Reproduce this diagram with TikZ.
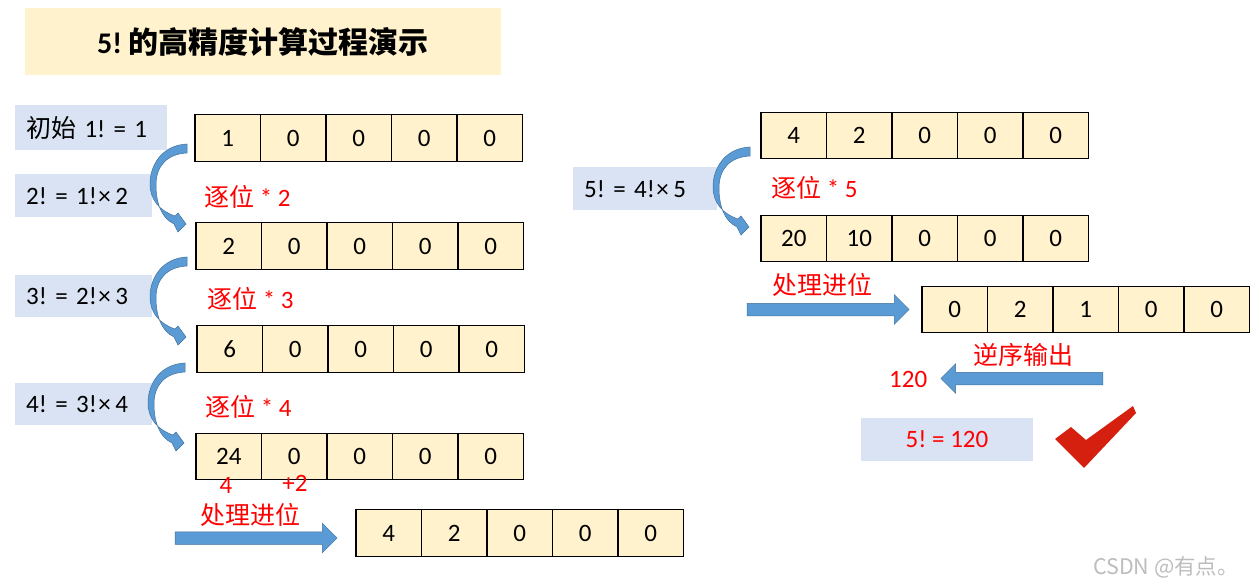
\documentclass[tikz,border=0pt]{standalone}
\usepackage{fontspec}
\setmainfont{Carlito}
\newfontfamily\cjk{Noto Sans CJK SC}
\usetikzlibrary{shapes.arrows}
\definecolor{cellfill}{HTML}{FFF2CC}
\definecolor{lblfill}{HTML}{DAE3F3}
\definecolor{arrfill}{HTML}{5B9BD5}
\definecolor{arrline}{HTML}{41719C}
\definecolor{checkred}{HTML}{D52010}
\definecolor{marktext}{HTML}{BDBDBD}
\frenchspacing
\newcommand{\tms}{\hspace{1.5pt}×\hspace{4.5pt}}

\tikzset{
  cell/.style={draw, line width=1.2pt, fill=cellfill, minimum width=65.5pt,
    minimum height=46.5pt, inner sep=0pt, font=\fontsize{25}{28}\selectfont},
  lbl/.style={fill=lblfill, anchor=north west, inner xsep=11pt, inner ysep=0pt,
    align=left, font=\fontsize{25}{28}\selectfont},
  redlbl/.style={text=red, inner sep=0pt, font=\fontsize{25}{28}\selectfont},
  bendarrow/.style={fill=arrfill, draw=arrline, line width=0.5pt},
  pusharrow/.style={single arrow, fill=arrfill, draw=arrline, line width=0.5pt,
    minimum height=162pt, inner sep=6pt, single arrow head extend=8.5pt}
}

\begin{document}
\begin{tikzpicture}[x=1pt,y=-1pt]
\useasboundingbox (0,0) rectangle (1259,588);

% title
\node[fill=cellfill, minimum width=476pt, minimum height=67pt,
  font=\fontsize{30}{34}\selectfont\bfseries] (title) at (263,41.5) {5! {\cjk 的高精度计算过程演示}};

% steps on the left and right
\node[lbl, minimum height=45pt, text width=130pt] (init) at (15,105) {{\cjk 初始} 1! = 1};
\node[lbl, minimum height=43pt, text width=115pt] (f2) at (15,174) {2! = 1!\tms 2};
\node[lbl, minimum height=42pt, text width=115pt] (f3) at (15,275) {3! = 2!\tms 3};
\node[lbl, minimum height=42pt, text width=115pt] (f4) at (15,383) {4! = 3!\tms 4};
\node[lbl, minimum height=43pt, text width=122pt] (f5) at (573,167) {5! = 4!\tms 5};

% digit arrays
\foreach \row/\x/\y/\vals in {r1/195/138/{1,0,0,0,0}, r2/196/246/{2,0,0,0,0},
    r3/197/349/{6,0,0,0,0}, r4/196/456.5/{24,0,0,0,0}, r5/356/533/{4,2,0,0,0},
    ra/761/135.5/{4,2,0,0,0}, rb/761/238.5/{20,10,0,0,0}, rc/922/309.5/{0,2,1,0,0}}
  \foreach \v [count=\i] in \vals
    \node[cell] (\row c\i) at (\x+65.5*\i-32.75,\y) {\v};

% curved arrows between the arrays
\foreach \tx/\ty in {187/144, 187/257, 185/363, 750/147}
  \filldraw[bendarrow, shift={(\tx,\ty)}] (0,0) .. controls (-24,1) and (-37,20) .. (-37,40)
    .. controls (-37,56) and (-27,67) .. (-12,72) -- (-9,69) -- (-1,80) -- (-9,88) -- (-13,80)
    .. controls (-26,74) and (-31,58) .. (-31,41) .. controls (-31,22) and (-20,10) .. (0,9) -- cycle;

% red notes
\node[redlbl, anchor=west] (m2) at (204,197) {{\cjk 逐位} * 2};
\node[redlbl, anchor=west] (m3) at (207,299) {{\cjk 逐位} * 3};
\node[redlbl, anchor=west] (m4) at (205,407) {{\cjk 逐位} * 4};
\node[redlbl, anchor=west] (m5) at (771,188) {{\cjk 逐位} * 5};
\node[redlbl] (keep) at (226,485) {4};
\node[redlbl] (carry) at (295,483) {+2};
\node[redlbl, anchor=west] (cl) at (200,515) {\cjk 处理进位};
\node[redlbl, anchor=west] (cr) at (772,285) {\cjk 处理进位};
\node[redlbl, anchor=west] (rev) at (973,355) {\cjk 逆序输出};
\node[redlbl, anchor=west] (out) at (889,379) {120};

% straight arrows
\node[pusharrow] (pa) at (253,538) {};
\node[pusharrow] (pb) at (825,309.5) {};
\node[pusharrow, shape border rotate=180] (pc) at (1025,378.5) {};

% result
\node[fill=lblfill, minimum width=172pt, minimum height=43pt, text=red,
  font=\fontsize{25}{28}\selectfont] (res) at (947,439.5) {5! = 120};
\fill[checkred] (1055,439) -- (1071,427) -- (1086,440) -- (1133,406) -- (1136,413) -- (1084,468) -- cycle;

\node[text=marktext, font=\fontsize{21.5}{24}\selectfont] (wm) at (1166,567) {\cjk CSDN @有点。};
\end{tikzpicture}
\end{document}
